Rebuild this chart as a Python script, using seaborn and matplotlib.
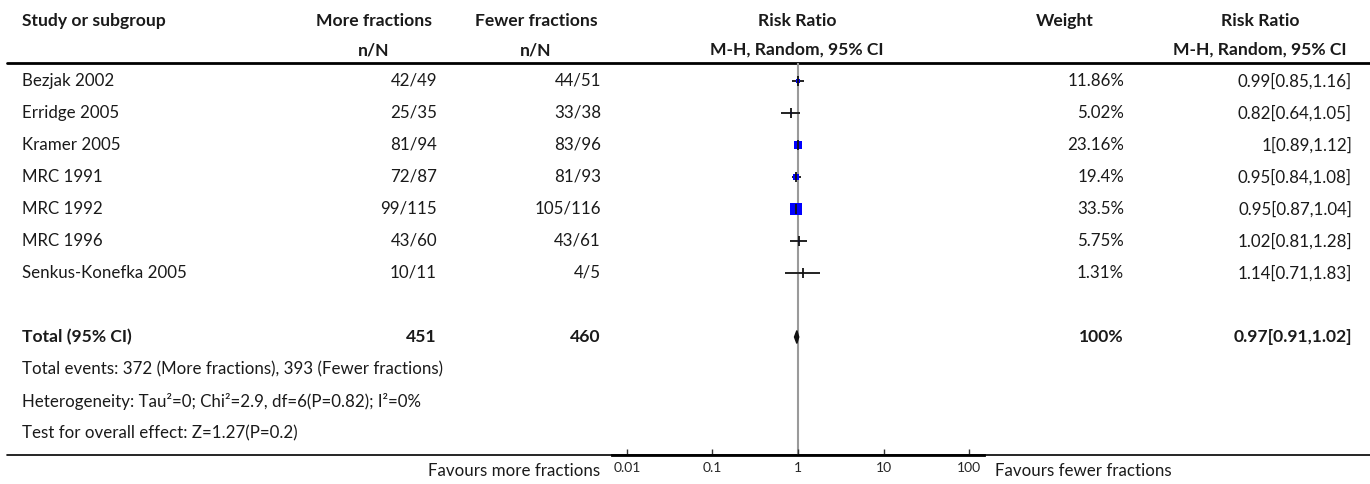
import numpy as np
import pandas as pd
import matplotlib
matplotlib.use("Agg")
import matplotlib.pyplot as plt
import seaborn as sns

# datos del forest plot
studies = ["Bezjak 2002", "Erridge 2005", "Kramer 2005", "MRC 1991",
           "MRC 1992", "MRC 1996", "Senkus-Konefka 2005"]
more_events = [42, 25, 81, 72, 99, 43, 10]
more_total = [49, 35, 94, 87, 115, 60, 11]
fewer_events = [44, 33, 83, 81, 105, 43, 4]
fewer_total = [51, 38, 96, 93, 116, 61, 5]
risk_ratio = [0.99, 0.82, 1.0, 0.95, 0.95, 1.02, 1.14]
ci_low = [0.85, 0.64, 0.89, 0.84, 0.87, 0.81, 0.71]
ci_high = [1.16, 1.05, 1.12, 1.08, 1.04, 1.28, 1.83]
weights = [11.86, 5.02, 23.16, 19.4, 33.5, 5.75, 1.31]

total_more = 451
total_fewer = 460
total_rr = 0.97
total_lo = 0.91
total_hi = 1.02
total_weight = 100

footer_lines = [
    "Total events: 372 (More fractions), 393 (Fewer fractions)",
    "Heterogeneity: Tau\u00b2=0; Chi\u00b2=2.9, df=6(P=0.82); I\u00b2=0%",
    "Test for overall effect: Z=1.27(P=0.2)",
]
tick_values = [0.01, 0.1, 1, 10, 100]
tick_labels = ["0.01", "0.1", "1", "10", "100"]

sns.set_theme(style="white")
plt.rcParams["font.family"] = ["Lato", "DejaVu Sans"]

W, H = 1370, 484
fig = plt.figure(figsize=(W / 100, H / 100), dpi=100)

# capa de texto en coordenadas de pixel
bg = fig.add_axes([0, 0, 1, 1])
bg.set_xlim(0, W)
bg.set_ylim(H, 0)
bg.axis("off")

fs = 12.2
fsb = 12.6
ink = "#1a1a1a"


def row_y(i):
    return 81 + 32 * i


# encabezados
bg.text(22, 21, "Study or subgroup", fontsize=fsb, weight="bold", va="center", ha="left", color=ink)
bg.text(374, 21, "More fractions", fontsize=fsb, weight="bold", va="center", ha="center", color=ink)
bg.text(374, 50, "n/N", fontsize=fsb, weight="bold", va="center", ha="center", color=ink)
bg.text(536, 21, "Fewer fractions", fontsize=fsb, weight="bold", va="center", ha="center", color=ink)
bg.text(536, 50, "n/N", fontsize=fsb, weight="bold", va="center", ha="center", color=ink)
bg.text(797, 21, "Risk Ratio", fontsize=fsb, weight="bold", va="center", ha="center", color=ink)
bg.text(797, 50, "M-H, Random, 95% CI", fontsize=fsb, weight="bold", va="center", ha="center", color=ink)
bg.text(1065, 21, "Weight", fontsize=fsb, weight="bold", va="center", ha="center", color=ink)
bg.text(1260, 21, "Risk Ratio", fontsize=fsb, weight="bold", va="center", ha="center", color=ink)
bg.text(1260, 50, "M-H, Random, 95% CI", fontsize=fsb, weight="bold", va="center", ha="center", color=ink)
bg.plot([7, W], [63, 63], color="black", lw=2)

# filas de estudios
for i, name in enumerate(studies):
    y = row_y(i)
    bg.text(22, y, name, fontsize=fs, va="center", ha="left", color=ink)
    bg.text(437, y, f"{more_events[i]}/{more_total[i]}", fontsize=fs, va="center", ha="right", color=ink)
    bg.text(601, y, f"{fewer_events[i]}/{fewer_total[i]}", fontsize=fs, va="center", ha="right", color=ink)
    bg.text(1124, y, f"{weights[i]:g}%", fontsize=fs, va="center", ha="right", color=ink)
    bg.text(1352, y, f"{risk_ratio[i]:g}[{ci_low[i]:g},{ci_high[i]:g}]",
            fontsize=fs, va="center", ha="right", color=ink)

# fila total
yt = row_y(len(studies) + 1)
bg.text(22, yt, "Total (95% CI)", fontsize=fsb, weight="bold", va="center", ha="left", color=ink)
bg.text(437, yt, f"{total_more}", fontsize=fsb, weight="bold", va="center", ha="right", color=ink)
bg.text(601, yt, f"{total_fewer}", fontsize=fsb, weight="bold", va="center", ha="right", color=ink)
bg.text(1124, yt, f"{total_weight:g}%", fontsize=fsb, weight="bold", va="center", ha="right", color=ink)
bg.text(1352, yt, f"{total_rr:g}[{total_lo:g},{total_hi:g}]",
        fontsize=fsb, weight="bold", va="center", ha="right", color=ink)

for k, line in enumerate(footer_lines):
    bg.text(22, row_y(len(studies) + 2 + k), line, fontsize=fs, va="center", ha="left", color=ink)

bg.plot([7, W], [455, 455], color="black", lw=1.2)
bg.text(600, 471, "Favours more fractions", fontsize=fs, va="center", ha="right", color=ink)
bg.text(995, 471, "Favours fewer fractions", fontsize=fs, va="center", ha="left", color=ink)

# panel del forest plot (escala log)
left_px, right_px, top_px, bot_px = 612, 984, 63, 455
ax = fig.add_axes([left_px / W, 1 - bot_px / H, (right_px - left_px) / W, (bot_px - top_px) / H])
ax.set_facecolor("none")
ax.set_xscale("log")
ax.set_xlim(10 ** -2.175, 10 ** 2.175)
ax.set_ylim((bot_px - 81) / 32, (top_px - 81) / 32)

df = pd.DataFrame({
    "study": studies,
    "row": np.arange(len(studies)),
    "rr": risk_ratio,
    "lo": ci_low,
    "hi": ci_high,
    "weight": weights,
})
# lado del cuadrado proporcional al peso
df["area"] = (df["weight"] * 0.35 * 0.72) ** 2

ax.axvline(1, color="#9a9a9a", lw=1.5, zorder=0)
ax.hlines(df["row"], df["lo"], df["hi"], color="#222222", lw=1.4, zorder=2)
sns.scatterplot(data=df, x="rr", y="row", size="area",
                sizes=(df["area"].min(), df["area"].max()),
                marker="s", color="#0000ff", edgecolor="none", linewidth=0,
                legend=False, ax=ax, zorder=3)
ax.scatter(df["rr"], df["row"], marker="|", s=45, color="#111111", linewidths=1.3, zorder=4)

# diamante del total
tr = len(studies) + 1
ax.fill([total_lo, total_rr, total_hi, total_rr], [tr, tr - 0.2, tr, tr + 0.2],
        color="#111111", zorder=4)

for side in ["top", "left", "right"]:
    ax.spines[side].set_visible(False)
ax.spines["bottom"].set_color("black")
ax.spines["bottom"].set_linewidth(2)
ax.set_yticks([])
ax.set_xticks(tick_values)
ax.set_xticklabels(tick_labels)
ax.minorticks_off()
ax.tick_params(axis="x", direction="in", length=4, width=1, color="#333333",
               labelsize=10, pad=5, bottom=True)
ax.set_xlabel("")
ax.set_ylabel("")

fig.savefig("out.png", dpi=100)
